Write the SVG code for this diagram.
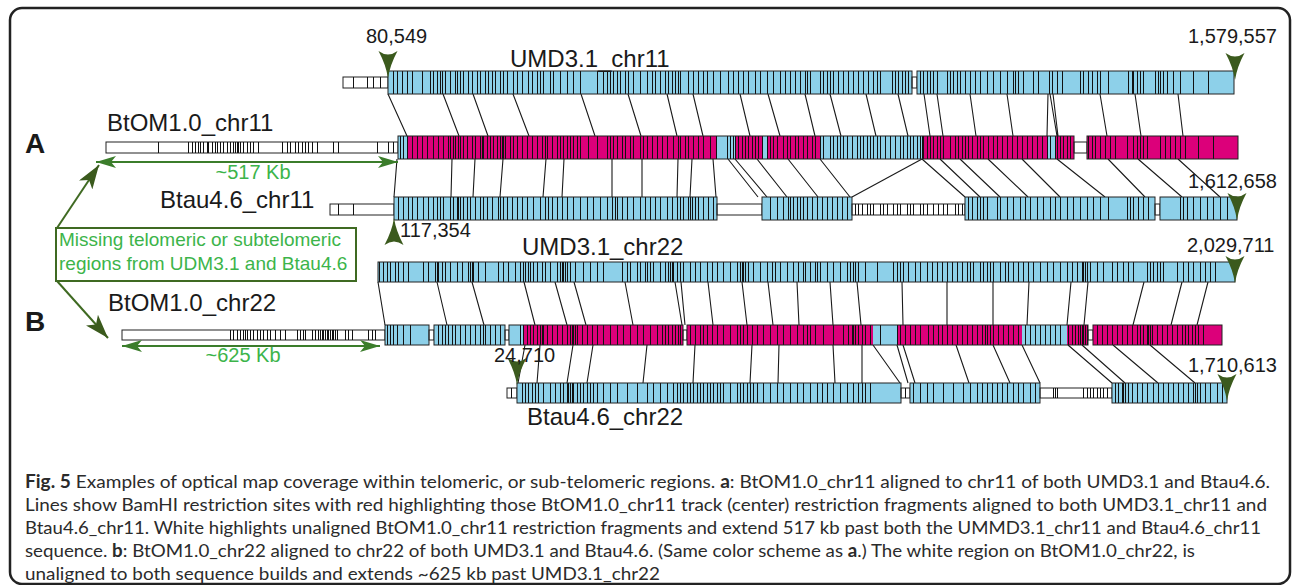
<svg xmlns="http://www.w3.org/2000/svg" width="1295" height="585" viewBox="0 0 1295 585">
<style>
.bl{fill:#8dd0e9}
.mg{fill:#dc007a}
.wf{fill:#fff}
.ol{fill:none;stroke:#222;stroke-width:1}
.wb{fill:#fff;stroke:#222;stroke-width:1}
.tk{fill:none;stroke:#111;stroke-width:1;shape-rendering:crispEdges}
.cn{fill:none;stroke:#1a1a1a;stroke-width:1.1}
.lbl{font-family:"Liberation Sans",Arial,Helvetica,sans-serif;fill:#1a1a1a}
.num{font-size:20px}
.nm{font-size:24px}
.pin{fill:#3b5a1d}
.gtxt{font-family:"Liberation Sans",Arial,sans-serif;fill:#3cb44a}
.cap{font-family:Lato,"Open Sans",sans-serif;font-size:18px;fill:#2b2b2b}
</style>
<defs>
<path id="pin" class="pin" d="M-9.5,-27 Q0,-20 9.5,-27 Q2,-13 0,0 Q-2,-13 -9.5,-27Z"/>
<marker id="ga" viewBox="0 0 20 12" markerWidth="20" markerHeight="12" refX="20" refY="6" orient="auto-start-reverse" markerUnits="userSpaceOnUse"><path d="M0,0 L20,6 L0,12 L5,6Z" fill="#3b7d2b"/></marker>
<marker id="da" viewBox="0 0 24 16" markerWidth="24" markerHeight="16" refX="24" refY="8" orient="auto" markerUnits="userSpaceOnUse"><path d="M0,0 L24,8 L0,16 L6,8Z" fill="#3b5a1d"/></marker>
</defs>
<rect x="10" y="8" width="1280" height="576" rx="12" fill="#fff" stroke="#222" stroke-width="2.5"/>

<g id="connectors">
<path class="cn" d="M388 94L407 136M443 94L459 136M473 94L488 136M513 94L529 136M581 94L595 136M628 94L641 136M667 94L677 136M693 94L703 136M740 94L750 136M768 94L780 136M805 94L815 136M830 94L841 136M866 94L876 136M898 94L908 136M924 94L930 136M937 94L943 136M970 94L976 136M1007 94L1013 136M1048 94L1047 136M1050 94L1057 136M1053 94L1058 136M1100 94L1107 136M1135 94L1141 136M1178 94L1183 136"/>
<path class="cn" d="M397 159L394 197M452 159L451 197M475 159L473 197M503 159L500 197M546 159L543 197M564 159L562 197M612 159L612 197M642 159L642 197M678 159L677 197M692 159L690 197M713 159L716 197M728 159L758 197M735 159L767 197M757 159L787 197M788 159L818 197M820 159L850 197M922 159L965 197M940 159L980 197M960 159L1000 197M988 159L1028 197M1022 159L1060 197M1057 159L1105 197M1108 159L1145 197M1138 159L1182 197M1178 159L1220 197"/>
<path class="cn" stroke-width="2" d="M922 159L852 197"/>
<path class="cn" d="M378 282L385 325M437 282L447 325M472 282L484 325M524 282L535 325M555 282L567 325M574 282L586 325M625 282L633 325M675 282L682 325M681 282L685 325M708 282L713 325M742 282L747 325M768 282L773 325M797 282L799 325M830 282L833 325M857 282L861 325M902 282L903 325M947 282L947 325M993 282L993 325M1029 282L1027 325M1071 282L1067 325M1088 282L1084 325M1144 282L1133 325M1182 282L1171 325M1208 282L1197 325"/>
<path class="cn" d="M525 345L518 383M540 345L537 383M573 345L567 383M593 345L587 383M647 345L643 383M695 345L693 383M752 345L750 383M779 345L778 383M833 345L835 383M862 345L862 383M873 345L900 383M897 345L908 383M903 345L915 383M956 345L969 383M993 345L1010 383M1022 345L1040 383M1068 345L1112 383M1082 345L1125 383M1113 345L1158 383M1150 345L1195 383"/>
</g>

<g id="umd-chr11">
<rect class="wb" x="343" y="77" width="45" height="11"/>
<path class="tk" d="M353 77v11M367 77v11M373 77v11M380 77v11"/>
<rect class="bl" x="388" y="71" width="524" height="23"/>
<rect class="wb" x="912" y="77" width="5" height="11"/>
<rect class="bl" x="917" y="71" width="317" height="23"/>
<path class="tk" d="M393 71v23M397 71v23M402 71v23M407 71v23M412 71v23M422 71v23M430 71v23M433 71v23M437 71v23M440 71v23M442 71v23M445 71v23M450 71v23M455 71v23M457 71v23M460 71v23M463 71v23M468 71v23M472 71v23M477 71v23M480 71v23M485 71v23M488 71v23M492 71v23M495 71v23M500 71v23M503 71v23M507 71v23M513 71v23M517 71v23M522 71v23M528 71v23M532 71v23M537 71v23M540 71v23M543 71v23M550 71v23M553 71v23M560 71v23M567 71v23M573 71v23M580 71v23M597 71v23M603 71v23M607 71v23M610 71v23M613 71v23M617 71v23M620 71v23M625 71v23M628 71v23M633 71v23M640 71v23M647 71v23M652 71v23M655 71v23M660 71v23M665 71v23M668 71v23M672 71v23M675 71v23M678 71v23M680 71v23M688 71v23M693 71v23M698 71v23M703 71v23M707 71v23M713 71v23M720 71v23M728 71v23M733 71v23M738 71v23M743 71v23M748 71v23M755 71v23M760 71v23M767 71v23M773 71v23M780 71v23M785 71v23M790 71v23M795 71v23M800 71v23M805 71v23M807 71v23M810 71v23M820 71v23M823 71v23M827 71v23M830 71v23M833 71v23M838 71v23M843 71v23M848 71v23M853 71v23M858 71v23M863 71v23M868 71v23M873 71v23M877 71v23M880 71v23M892 71v23M895 71v23M898 71v23M902 71v23M905 71v23M908 71v23"/>
<path class="tk" d="M920 71v23M923 71v23M927 71v23M930 71v23M933 71v23M937 71v23M947 71v23M950 71v23M953 71v23M957 71v23M960 71v23M965 71v23M970 71v23M975 71v23M980 71v23M987 71v23M993 71v23M1000 71v23M1007 71v23M1013 71v23M1015 71v23M1018 71v23M1023 71v23M1033 71v23M1038 71v23M1049 71v23M1052 71v23M1057 71v23M1062 71v23M1080 71v23M1083 71v23M1088 71v23M1092 71v23M1097 71v23M1100 71v23M1108 71v23M1128 71v23M1132 71v23M1133 71v23M1137 71v23M1140 71v23M1143 71v23M1155 71v23M1158 71v23M1160 71v23M1163 71v23M1167 71v23M1173 71v23M1180 71v23M1193 71v23M1208 71v23"/>
<rect class="ol" x="388" y="71" width="524" height="23"/>
<rect class="ol" x="917" y="71" width="317" height="23"/>
</g>

<g id="btom-chr11">
<rect class="wb" x="106" y="142" width="292" height="11"/>
<path class="tk" d="M158 142v11M188 142v11M192 142v11M195 142v11M198 142v11M200 142v11M203 142v11M207 142v11M208 142v11M212 142v11M215 142v11M217 142v11M220 142v11M223 142v11M227 142v11M230 142v11M233 142v11M235 142v11M237 142v11M238 142v11M240 142v11M243 142v11M247 142v11M250 142v11M253 142v11M258 142v11M282 142v11M287 142v11M290 142v11M295 142v11M298 142v11M302 142v11M305 142v11M308 142v11M312 142v11M317 142v11M333 142v11M338 142v11M377 142v11M388 142v11M393 142v11"/>
<rect class="bl" x="398" y="136" width="676" height="23"/>
<rect class="mg" x="407" y="136" width="309" height="23"/>
<rect class="mg" x="735" y="136" width="27" height="23"/>
<rect class="mg" x="767" y="136" width="53" height="23"/>
<rect class="mg" x="922" y="136" width="125" height="23"/>
<rect class="mg" x="1055" y="136" width="19" height="23"/>
<rect class="wb" x="1074" y="142" width="13" height="11"/>
<rect class="mg" x="1087" y="136" width="151" height="23"/>
<path class="tk" d="M400 136v23M403 136v23M407 136v23M412 136v23M417 136v23M422 136v23M427 136v23M433 136v23M438 136v23M443 136v23M448 136v23M450 136v23M453 136v23M455 136v23M458 136v23M460 136v23M463 136v23M467 136v23M472 136v23M475 136v23M480 136v23M482 136v23M483 136v23M487 136v23M490 136v23M493 136v23M497 136v23M500 136v23M502 136v23M503 136v23M505 136v23M510 136v23M513 136v23M517 136v23M522 136v23M527 136v23M532 136v23M537 136v23M542 136v23M545 136v23M547 136v23M552 136v23M557 136v23M560 136v23M563 136v23M567 136v23M570 136v23M573 136v23M577 136v23M580 136v23M588 136v23M597 136v23M607 136v23M610 136v23M613 136v23M617 136v23M622 136v23M625 136v23M630 136v23M633 136v23M640 136v23M643 136v23M647 136v23M652 136v23M657 136v23M662 136v23M667 136v23M673 136v23M678 136v23M680 136v23M685 136v23M688 136v23M693 136v23M698 136v23M703 136v23M710 136v23M716 136v23M727 136v23M730 136v23M733 136v23M735 136v23M738 136v23M742 136v23M745 136v23M748 136v23M752 136v23M755 136v23M758 136v23M762 136v23M767 136v23M770 136v23M773 136v23M777 136v23M783 136v23M787 136v23M790 136v23M795 136v23M798 136v23M803 136v23M807 136v23M812 136v23M815 136v23M820 136v23M823 136v23M830 136v23M833 136v23M837 136v23M840 136v23M843 136v23M847 136v23M852 136v23M857 136v23M860 136v23M863 136v23M867 136v23M870 136v23M873 136v23M877 136v23M880 136v23M885 136v23M890 136v23M895 136v23M900 136v23M903 136v23M907 136v23M910 136v23M913 136v23M917 136v23M920 136v23M922 136v23M923 136v23M927 136v23M930 136v23M933 136v23M937 136v23M940 136v23M943 136v23M950 136v23M955 136v23M958 136v23M962 136v23M965 136v23M968 136v23M972 136v23M977 136v23M980 136v23M983 136v23M988 136v23M993 136v23M997 136v23M1002 136v23M1007 136v23M1012 136v23M1017 136v23M1022 136v23M1027 136v23M1032 136v23M1037 136v23M1042 136v23M1047 136v23M1050 136v23M1055 136v23M1057 136v23M1060 136v23M1063 136v23M1067 136v23M1070 136v23"/>
<path class="tk" d="M1088 136v23M1092 136v23M1095 136v23M1100 136v23M1105 136v23M1110 136v23M1115 136v23M1127 136v23M1133 136v23M1137 136v23M1140 136v23M1143 136v23M1147 136v23M1160 136v23M1165 136v23M1170 136v23M1175 136v23M1180 136v23M1185 136v23M1198 136v23M1213 136v23"/>
<rect class="ol" x="398" y="136" width="676" height="23"/>
<rect class="ol" x="1087" y="136" width="151" height="23"/>
</g>

<g id="btau-chr11">
<rect class="wb" x="330" y="204" width="64" height="11"/>
<path class="tk" d="M338 204v11M353 204v11"/>
<rect class="bl" x="394" y="197" width="323" height="23"/>
<rect class="wb" x="717" y="204" width="45" height="11"/>
<rect class="bl" x="762" y="197" width="90" height="23"/>
<rect class="wb" x="852" y="204" width="113" height="11"/>
<rect class="bl" x="965" y="197" width="190" height="23"/>
<rect class="wb" x="1155" y="204" width="5" height="11"/>
<rect class="bl" x="1160" y="197" width="77" height="23"/>
<path class="tk" d="M398 197v23M403 197v23M408 197v23M412 197v23M417 197v23M423 197v23M428 197v23M433 197v23M437 197v23M440 197v23M443 197v23M450 197v23M453 197v23M457 197v23M458 197v23M460 197v23M463 197v23M467 197v23M470 197v23M475 197v23M480 197v23M483 197v23M487 197v23M492 197v23M498 197v23M500 197v23M503 197v23M507 197v23M512 197v23M517 197v23M522 197v23M527 197v23M533 197v23M540 197v23M545 197v23M548 197v23M552 197v23M557 197v23M562 197v23M567 197v23M573 197v23M580 197v23M587 197v23M593 197v23M600 197v23M607 197v23M612 197v23M615 197v23M617 197v23M622 197v23M627 197v23M633 197v23M640 197v23M645 197v23M650 197v23M655 197v23M660 197v23M667 197v23M672 197v23M677 197v23M680 197v23M683 197v23M688 197v23M690 197v23M692 197v23M695 197v23M698 197v23M703 197v23M708 197v23M713 197v23"/>
<path class="tk" d="M770 197v23M777 197v23M783 197v23M788 197v23M790 197v23M793 197v23M797 197v23M800 197v23M803 197v23M807 197v23M812 197v23M817 197v23M822 197v23M827 197v23M832 197v23M837 197v23M842 197v23M847 197v23"/>
<path class="tk" d="M855 204v11M858 204v11M862 204v11M867 204v11M870 204v11M873 204v11M880 204v11M883 204v11M887 204v11M893 204v11M897 204v11M900 204v11M907 204v11M910 204v11M913 204v11M920 204v11M923 204v11M927 204v11M933 204v11M938 204v11M943 204v11M947 204v11M955 204v11M958 204v11M962 204v11"/>
<path class="tk" d="M968 197v23M972 197v23M977 197v23M980 197v23M983 197v23M987 197v23M997 197v23M1000 197v23M1007 197v23M1013 197v23M1020 197v23M1025 197v23M1030 197v23M1037 197v23M1043 197v23M1050 197v23M1055 197v23M1060 197v23M1067 197v23M1073 197v23M1080 197v23M1087 197v23M1093 197v23M1100 197v23M1108 197v23M1127 197v23M1130 197v23M1133 197v23M1138 197v23M1143 197v23M1148 197v23M1180 197v23M1183 197v23M1187 197v23M1193 197v23M1200 197v23M1207 197v23M1213 197v23M1220 197v23M1227 197v23"/>
<rect class="ol" x="394" y="197" width="323" height="23"/>
<rect class="ol" x="762" y="197" width="90" height="23"/>
<rect class="ol" x="965" y="197" width="190" height="23"/>
<rect class="ol" x="1160" y="197" width="77" height="23"/>
</g>

<g id="umd-chr22">
<rect class="bl" x="378" y="262" width="857" height="20"/>
<path class="tk" d="M379 262v20M383 262v20M387 262v20M390 262v20M395 262v20M398 262v20M403 262v20M408 262v20M423 262v20M428 262v20M435 262v20M437 262v20M438 262v20M442 262v20M445 262v20M450 262v20M457 262v20M462 262v20M468 262v20M470 262v20M472 262v20M473 262v20M478 262v20M485 262v20M498 262v20M503 262v20M508 262v20M515 262v20M520 262v20M523 262v20M525 262v20M528 262v20M530 262v20M533 262v20M537 262v20M542 262v20M545 262v20M550 262v20M557 262v20M560 262v20M562 262v20M563 262v20M565 262v20M567 262v20M570 262v20M575 262v20M583 262v20M590 262v20M597 262v20M603 262v20M622 262v20M627 262v20M630 262v20M637 262v20M640 262v20M645 262v20M647 262v20M650 262v20M653 262v20M660 262v20M665 262v20M668 262v20M670 262v20M672 262v20M673 262v20M677 262v20M680 262v20M683 262v20M690 262v20M695 262v20M700 262v20M707 262v20M712 262v20M717 262v20M723 262v20M730 262v20M737 262v20M740 262v20M742 262v20M743 262v20M745 262v20M748 262v20M753 262v20M760 262v20M767 262v20M772 262v20M775 262v20M780 262v20M787 262v20M793 262v20M798 262v20M803 262v20M810 262v20M817 262v20"/>
<path class="tk" d="M805 262v20M810 262v20M815 262v20M820 262v20M827 262v20M833 262v20M840 262v20M847 262v20M850 262v20M853 262v20M855 262v20M858 262v20M865 262v20M877 262v20M893 262v20M897 262v20M900 262v20M903 262v20M908 262v20M915 262v20M920 262v20M927 262v20M932 262v20M937 262v20M942 262v20M947 262v20M952 262v20M957 262v20M962 262v20M967 262v20M970 262v20M973 262v20M980 262v20M983 262v20M987 262v20M990 262v20M993 262v20M1000 262v20M1005 262v20M1008 262v20M1013 262v20M1018 262v20M1023 262v20M1028 262v20M1033 262v20M1040 262v20M1047 262v20M1053 262v20M1060 262v20M1067 262v20M1072 262v20M1077 262v20M1082 262v20M1083 262v20M1085 262v20M1087 262v20M1090 262v20M1097 262v20M1103 262v20M1112 262v20M1117 262v20M1123 262v20M1128 262v20M1133 262v20M1147 262v20M1150 262v20M1153 262v20M1157 262v20M1160 262v20M1163 262v20M1177 262v20M1183 262v20M1188 262v20M1193 262v20M1200 262v20M1205 262v20M1210 262v20M1215 262v20"/>
<rect class="ol" x="378" y="262" width="857" height="20"/>
</g>

<g id="btom-chr22">
<rect class="wb" x="122" y="330" width="263" height="10"/>
<path class="tk" d="M230 330v10M233 330v10M237 330v10M240 330v10M243 330v10M245 330v10M247 330v10M250 330v10M253 330v10M257 330v10M260 330v10M263 330v10M267 330v10M270 330v10M275 330v10M280 330v10M285 330v10M297 330v10M300 330v10M303 330v10M305 330v10M312 330v10M315 330v10M318 330v10M320 330v10M322 330v10M323 330v10M325 330v10M327 330v10M328 330v10M330 330v10M332 330v10M333 330v10M335 330v10M337 330v10M345 330v10M348 330v10M352 330v10M368 330v10M372 330v10M375 330v10"/>
<rect class="bl" x="385" y="325" width="44" height="20"/>
<rect class="wb" x="429" y="330" width="5" height="10"/>
<rect class="bl" x="434" y="325" width="71" height="20"/>
<rect class="wb" x="505" y="330" width="4" height="10"/>
<rect class="bl" x="509" y="325" width="174" height="20"/>
<rect class="mg" x="524" y="325" width="159" height="20"/>
<rect class="wb" x="683" y="330" width="4" height="10"/>
<rect class="mg" x="687" y="325" width="401" height="20"/>
<rect class="bl" x="873" y="325" width="24" height="20"/>
<rect class="bl" x="1022" y="325" width="45" height="20"/>
<rect class="wb" x="1088" y="330" width="5" height="10"/>
<rect class="mg" x="1093" y="325" width="129" height="20"/>
<path class="tk" d="M387 325v20M390 325v20M393 325v20M397 325v20M403 325v20M410 325v20M438 325v20M442 325v20M445 325v20M448 325v20M452 325v20M455 325v20M460 325v20M465 325v20M470 325v20M475 325v20M480 325v20M483 325v20M485 325v20M490 325v20M495 325v20M500 325v20M520 325v20M523 325v20M527 325v20M530 325v20M533 325v20M537 325v20M540 325v20M542 325v20M543 325v20M547 325v20M552 325v20M557 325v20M562 325v20M567 325v20M570 325v20M572 325v20M573 325v20M575 325v20M577 325v20M582 325v20M587 325v20M592 325v20M597 325v20M603 325v20M610 325v20M617 325v20M623 325v20M630 325v20M637 325v20M643 325v20M650 325v20M657 325v20M662 325v20M665 325v20M668 325v20M672 325v20M675 325v20M678 325v20M680 325v20"/>
<path class="tk" d="M690 325v20M695 325v20M700 325v20M703 325v20M707 325v20M712 325v20M717 325v20M723 325v20M730 325v20M737 325v20M740 325v20M743 325v20M747 325v20M752 325v20M757 325v20M763 325v20M770 325v20M777 325v20M783 325v20M790 325v20M797 325v20M803 325v20M807 325v20M810 325v20M815 325v20M823 325v20M833 325v20M843 325v20M848 325v20M852 325v20M853 325v20M855 325v20M858 325v20M862 325v20M865 325v20M870 325v20M880 325v20M897 325v20M900 325v20M905 325v20M910 325v20M915 325v20M920 325v20M928 325v20M933 325v20M938 325v20M942 325v20M947 325v20M952 325v20M957 325v20M962 325v20M967 325v20M972 325v20M977 325v20M982 325v20M985 325v20M987 325v20M990 325v20M993 325v20M998 325v20M1003 325v20M1008 325v20M1013 325v20M1018 325v20M1025 325v20M1030 325v20M1035 325v20M1040 325v20M1045 325v20M1050 325v20M1055 325v20M1060 325v20M1068 325v20M1072 325v20M1075 325v20M1078 325v20M1080 325v20M1082 325v20M1083 325v20M1085 325v20M1087 325v20"/>
<path class="tk" d="M1097 325v20M1102 325v20M1107 325v20M1112 325v20M1117 325v20M1122 325v20M1127 325v20M1132 325v20M1137 325v20M1140 325v20M1143 325v20M1147 325v20M1148 325v20M1150 325v20M1152 325v20M1157 325v20M1162 325v20M1167 325v20M1172 325v20M1177 325v20M1182 325v20M1185 325v20M1188 325v20M1192 325v20M1195 325v20M1198 325v20M1203 325v20"/>
<rect class="ol" x="385" y="325" width="44" height="20"/>
<rect class="ol" x="434" y="325" width="71" height="20"/>
<rect class="ol" x="509" y="325" width="174" height="20"/>
<rect class="ol" x="687" y="325" width="401" height="20"/>
<rect class="ol" x="1093" y="325" width="129" height="20"/>
</g>

<g id="btau-chr22">
<rect class="wb" x="507" y="388" width="10" height="10"/>
<path class="tk" d="M511 388v10"/>
<rect class="bl" x="517" y="383" width="384" height="20"/>
<rect class="wb" x="901" y="388" width="9" height="10"/>
<rect class="bl" x="910" y="383" width="130" height="20"/>
<rect class="wb" x="1040" y="388" width="72" height="10"/>
<rect class="bl" x="1112" y="383" width="115" height="20"/>
<path class="tk" d="M522 383v20M525 383v20M528 383v20M532 383v20M535 383v20M538 383v20M543 383v20M550 383v20M555 383v20M560 383v20M563 383v20M567 383v20M568 383v20M570 383v20M572 383v20M573 383v20M577 383v20M580 383v20M583 383v20M587 383v20M590 383v20M593 383v20M597 383v20M603 383v20M610 383v20M617 383v20M627 383v20M637 383v20M647 383v20M653 383v20M660 383v20M667 383v20M673 383v20M677 383v20M680 383v20M683 383v20M687 383v20M690 383v20M693 383v20M697 383v20M700 383v20M703 383v20M707 383v20M710 383v20M713 383v20M717 383v20M720 383v20M723 383v20M730 383v20M737 383v20M740 383v20M743 383v20M747 383v20M750 383v20M753 383v20M757 383v20M763 383v20M770 383v20M777 383v20M783 383v20M790 383v20M797 383v20M803 383v20M810 383v20M817 383v20M822 383v20M827 383v20M833 383v20M840 383v20M847 383v20M853 383v20M858 383v20M862 383v20M865 383v20M870 383v20"/>
<path class="tk" d="M905 388v10M913 383v20M920 383v20M927 383v20M933 383v20M943 383v20M953 383v20M963 383v20M970 383v20M977 383v20M982 383v20M987 383v20M992 383v20M997 383v20M1002 383v20M1007 383v20M1013 383v20M1018 383v20M1023 383v20M1030 383v20M1035 383v20"/>
<path class="tk" d="M1053 388v10M1055 388v10M1057 388v10M1083 388v10M1087 388v10M1090 388v10M1093 388v10M1097 388v10M1100 388v10M1103 388v10M1107 388v10"/>
<path class="tk" d="M1115 383v20M1118 383v20M1122 383v20M1123 383v20M1125 383v20M1128 383v20M1132 383v20M1137 383v20M1142 383v20M1147 383v20M1153 383v20M1158 383v20M1163 383v20M1168 383v20M1173 383v20M1178 383v20M1183 383v20M1188 383v20M1193 383v20M1195 383v20M1197 383v20M1200 383v20M1205 383v20M1210 383v20M1217 383v20M1222 383v20"/>
<rect class="ol" x="517" y="383" width="384" height="20"/>
<rect class="ol" x="910" y="383" width="130" height="20"/>
<rect class="ol" x="1112" y="383" width="115" height="20"/>
</g>

<g id="markers">
<use href="#pin" transform="translate(388,78)"/>
<use href="#pin" transform="translate(1235,80)"/>
<use href="#pin" transform="translate(394,218) rotate(180)"/>
<use href="#pin" transform="translate(1237,220)"/>
<use href="#pin" transform="translate(1235,283)"/>
<use href="#pin" transform="translate(517,385)"/>
<use href="#pin" transform="translate(1227,401)"/>
</g>

<g id="spans">
<path d="M96 162H398" stroke="#3b7d2b" stroke-width="2" marker-start="url(#ga)" marker-end="url(#ga)"/>
<path d="M122 346H380" stroke="#3b7d2b" stroke-width="2" marker-start="url(#ga)" marker-end="url(#ga)"/>
<text class="gtxt" x="253" y="179" font-size="20" text-anchor="middle">~517 Kb</text>
<text class="gtxt" x="243" y="362" font-size="20" text-anchor="middle">~625 Kb</text>
</g>

<g id="callout">
<rect x="56" y="228" width="300" height="53" fill="#fff" stroke="#3f6a22" stroke-width="2"/>
<path d="M57 228L99 165" stroke="#3f6a22" stroke-width="2" fill="none" marker-end="url(#da)"/>
<path d="M57 281L108 338" stroke="#3f6a22" stroke-width="2" fill="none" marker-end="url(#da)"/>
<text class="gtxt" x="59" y="246" font-size="19">Missing telomeric or subtelomeric</text>
<text class="gtxt" x="59" y="270" font-size="19">regions from UDM3.1 and Btau4.6</text>
</g>

<g id="labels" class="lbl">
<text class="num" x="366" y="43">80,549</text>
<text class="nm" x="510" y="67">UMD3.1_chr11</text>
<text class="num" x="1188" y="43">1,579,557</text>
<text class="nm" x="107" y="131">BtOM1.0_chr11</text>
<text x="25" y="153" font-size="28" font-weight="bold">A</text>
<text class="nm" x="160" y="208">Btau4.6_chr11</text>
<text class="num" x="400" y="237">117,354</text>
<text class="num" x="1188" y="188">1,612,658</text>
<text class="nm" x="522" y="255">UMD3.1_chr22</text>
<text class="num" x="1187" y="252">2,029,711</text>
<text class="nm" x="108" y="311">BtOM1.0_chr22</text>
<text x="25" y="331" font-size="28" font-weight="bold">B</text>
<text class="num" x="494" y="362">24,710</text>
<text class="num" x="1188" y="372">1,710,613</text>
<text class="nm" x="527" y="425">Btau4.6_chr22</text>
</g>

<g id="caption" class="cap">
<text x="25" y="488" textLength="1245" lengthAdjust="spacingAndGlyphs"><tspan font-weight="bold">Fig. 5</tspan> Examples of optical map coverage within telomeric, or sub-telomeric regions. <tspan font-weight="bold">a</tspan>: BtOM1.0_chr11 aligned to chr11 of both UMD3.1 and Btau4.6.</text>
<text x="25" y="511" textLength="1242" lengthAdjust="spacingAndGlyphs">Lines show BamHI restriction sites with red highlighting those BtOM1.0_chr11 track (center) restriction fragments aligned to both UMD3.1_chr11 and</text>
<text x="25" y="534" textLength="1236" lengthAdjust="spacingAndGlyphs">Btau4.6_chr11. White highlights unaligned BtOM1.0_chr11 restriction fragments and extend 517 kb past both the UMMD3.1_chr11 and Btau4.6_chr11</text>
<text x="25" y="557" textLength="1170" lengthAdjust="spacingAndGlyphs">sequence. <tspan font-weight="bold">b</tspan>: BtOM1.0_chr22 aligned to chr22 of both UMD3.1 and Btau4.6. (Same color scheme as <tspan font-weight="bold">a</tspan>.) The white region on BtOM1.0_chr22, is</text>
<text x="25" y="580" textLength="635" lengthAdjust="spacingAndGlyphs">unaligned to both sequence builds and extends ~625 kb past UMD3.1_chr22</text>
</g>
</svg>
